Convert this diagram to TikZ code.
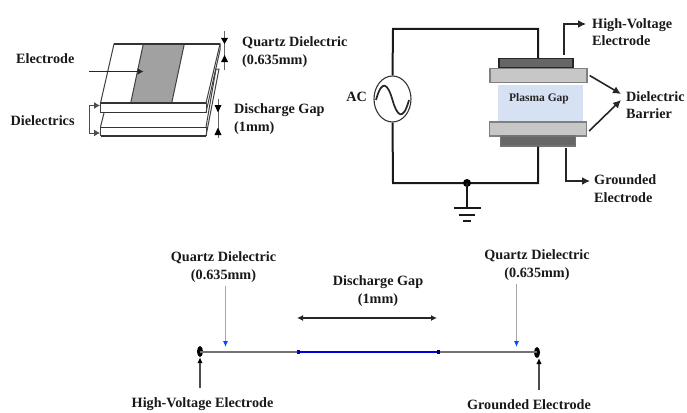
\documentclass[tikz,border=0pt]{standalone}
\usepackage{fontspec}
\setmainfont{Liberation Serif}
\usetikzlibrary{arrows.meta,shapes.geometric}
\definecolor{gapblue}{RGB}{214,225,243}
\tikzset{
  x=1pt,y=-1pt,
  lbl/.style={font=\fontsize{14.2}{17.5}\selectfont\bfseries,align=center,inner sep=0pt,text=black!90},
  wire/.style={line width=2pt,black!90},
  arr/.style={line width=1.6pt,black!85,-{Latex[length=8pt,width=8pt]}},
  thin3d/.style={line width=1pt,black!75},
  thick3d/.style={line width=1.5pt,black!80},
  plate/.style={draw=black!50,line width=1.3pt,fill=black!22},
  elec/.style={draw=black!85,line width=1.3pt,fill=black!60},
  dim/.style={line width=.8pt,black!60},
  tip/.style={fill=black,draw=none},
  bracket/.style={line width=1pt,black!70},
  quartz/.style={line width=1pt,black!35,-{Latex[length=6pt,width=5pt,color=blue!70!cyan]}},
  wirearr/.style={line width=1.3pt,black!70,-{Latex[length=6pt,width=5.5pt,color=black]}},
  gapdim/.style={line width=1.2pt,black!85,{Latex[length=6pt,width=6pt]}-{Latex[length=6pt,width=6pt]}},
  dotn/.style={fill=black,ellipse,draw=none,minimum width=6pt,minimum height=11pt,inner sep=0pt}
}
\begin{document}
\begin{tikzpicture}
\useasboundingbox (0,0) rectangle (687,412);
% ---------- perspective stack
\draw[thin3d,fill=white] (114,44)--(220,44)--(206,103)--(100.5,103)--cycle;
\fill[black!37] (143.3,44)--(184.3,44)--(171.7,103)--(130.7,103)--cycle;
\draw[thin3d] (143.3,44)--(130.7,103) (184.3,44)--(171.7,103);
\draw[thick3d] (114,44)--(220,44);
\draw[thick3d] (100.5,103)--(206,103);
\draw[thin3d] (100.5,103)--(100.5,112.5);
\draw[thick3d] (100.5,112.5)--(206,112.5);
\draw[thin3d] (206,103)--(206,112.5);
\draw[thin3d] (206,112.5)--(220,50)--(220,44);
\draw[thin3d] (206,127)--(216,69)--(219,69)--(206,136);
\draw[thin3d] (104,113)--(100.5,127);
\draw[thick3d] (100.5,127.3)--(206,127.3);
\draw[thick3d] (100.5,136)--(206,136);
\draw[thin3d] (100.5,127.3)--(100.5,136) (206,127.3)--(206,136);
% Electrode
\node[lbl,anchor=west] (electrode) at (16,59) {Electrode};
\coordinate (elecS) at (89,71.5);
\coordinate (elecE) at (143.5,71.5);
\draw[line width=1.1pt,black!85,-{Latex[length=6pt,width=7pt]}] (elecS)--(elecE);
% Dielectrics
\node[lbl,anchor=west] (dielectrics) at (10.5,120.5) {Dielectrics};
\coordinate (dA) at (100,105.5);
\coordinate (dB) at (100,133);
\coordinate (dC) at (89,105.5);
\coordinate (dD) at (89,133);
\draw[bracket,-{Latex[length=6pt,width=7pt]}] (dC)--(dA);
\draw[bracket,-{Latex[length=6pt,width=7pt]}] (dD)--(dB);
\draw[bracket] (dC)--(dD);
% Quartz dim
\node[lbl,anchor=west,align=left] (q1) at (242,52) {Quartz Dielectric\\(0.635mm)};
\node[lbl,anchor=west,align=left] (dg1) at (234,119) {Discharge Gap\\(1mm)};
\draw[dim] (224.5,31)--(224.5,70);
\fill[tip] (221,38)--(228,38)--(224.5,44)--cycle;
\fill[tip] (221,62)--(228,62)--(224.5,55)--cycle;
\draw[dim] (218,99)--(218,138);
\fill[tip] (214.5,105)--(221.5,105)--(218,112.5)--cycle;
\fill[tip] (214.5,135)--(221.5,135)--(218,127.5)--cycle;
% ---------- circuit
\fill[gapblue] (497.5,85)--(582.5,85)--(582.5,122)--(497.5,122)--cycle;
\node[font=\fontsize{11.5}{12}\selectfont\bfseries,inner sep=0pt,black!85] (gap) at (539,98.5) {Plasma Gap};
\node[draw=black!80,line width=1.1pt,fill=white,ellipse,inner sep=0pt,minimum width=37pt,minimum height=46pt] (ac) at (392.5,99) {};
\draw[line width=1.7pt,black!85] (376,100) .. controls (382,78) and (388,84) .. (392.5,100)
   .. controls (397,116) and (403,122) .. (409,100);
\node[lbl,anchor=east] (aclbl) at (367,97) {AC};
\node[elec,minimum width=74pt,minimum height=8.5pt,inner sep=0pt] (hv) at (536,63) {};
\node[plate,minimum width=97pt,minimum height=14pt,inner sep=0pt] (d1) at (538.5,75.5) {};
\node[plate,minimum width=97pt,minimum height=14pt,inner sep=0pt] (d2) at (538,129) {};
\node[elec,draw=black!55,minimum width=75pt,minimum height=10pt,inner sep=0pt] (gr) at (538,141) {};
\coordinate (tl) at (393,29);
\coordinate (tr) at (538,29);
\coordinate (bl) at (393,183);
\coordinate (br) at (538,183);
\coordinate (j) at (467,183);
\draw[wire] (ac.north)--(tl)--(tr)--(tr|-hv.north);
\draw[wire] (ac.south)--(bl)--(br)--(br|-gr.south);
\fill[black] (j) circle (4pt);
\coordinate (g0) at (467,208);
\draw[wire] (j)--(g0);
\draw[wire] (453.5,208)--(480.5,208);
\draw[wire] (459,214.5)--(475,214.5);
\draw[wire] (463,221)--(471,221);
% labels
\node[lbl,anchor=west,align=left] (hvl) at (592,32) {High-Voltage\\Electrode};
\node[lbl,anchor=west,align=left] (grl) at (594,188.5) {Grounded\\Electrode};
\node[lbl,anchor=west,align=left] (dbl) at (626,105) {Dielectric\\Barrier};
\draw[arr] (564,55)--(564,24)--(586,24);
\draw[arr] (566,148)--(566,181)--(590,181);
\draw[arr] (d1.east)++(2,0)--(621,94);
\draw[arr] (d2.east)++(2,2)--(621,100);
% ---------- bottom line
\node[lbl,anchor=center] (q2) at (223.5,267) {Quartz Dielectric\\(0.635mm)};
\node[lbl,anchor=center] (q3) at (537,265) {Quartz Dielectric\\(0.635mm)};
\node[lbl,anchor=center] (dg2) at (378,291) {Discharge Gap\\(1mm)};
\node[lbl,anchor=center] (hv2) at (202.5,404) {High-Voltage Electrode};
\node[lbl,anchor=center] (gr2) at (529,404.5) {Grounded Electrode};
\node[dotn] (p1) at (200,351.5) {};
\node[dotn] (p2) at (537,352.5) {};
\coordinate (a) at (298,352);
\coordinate (b) at (438.5,352);
\draw[line width=1.5pt,black!55] (p1.center|-a)--(a);
\draw[line width=1.5pt,black!55] (b)--(p2.center|-b);
\draw[line width=2.2pt,blue!85!black] (a)--(b);
\fill[blue!85!black] (296.5,350) rectangle (299.5,354);
\fill[black!70!blue] (437,350) rectangle (440,354);
\draw[gapdim] (297,318)--(437,318);
\draw[quartz] (225.5,286)--(225.5,347);
\draw[quartz] (516.5,284)--(516.5,347);
\draw[wirearr] (200,388)--(p1.south);
\draw[wirearr] (539,390)--(539,358);
\end{tikzpicture}
\end{document}
